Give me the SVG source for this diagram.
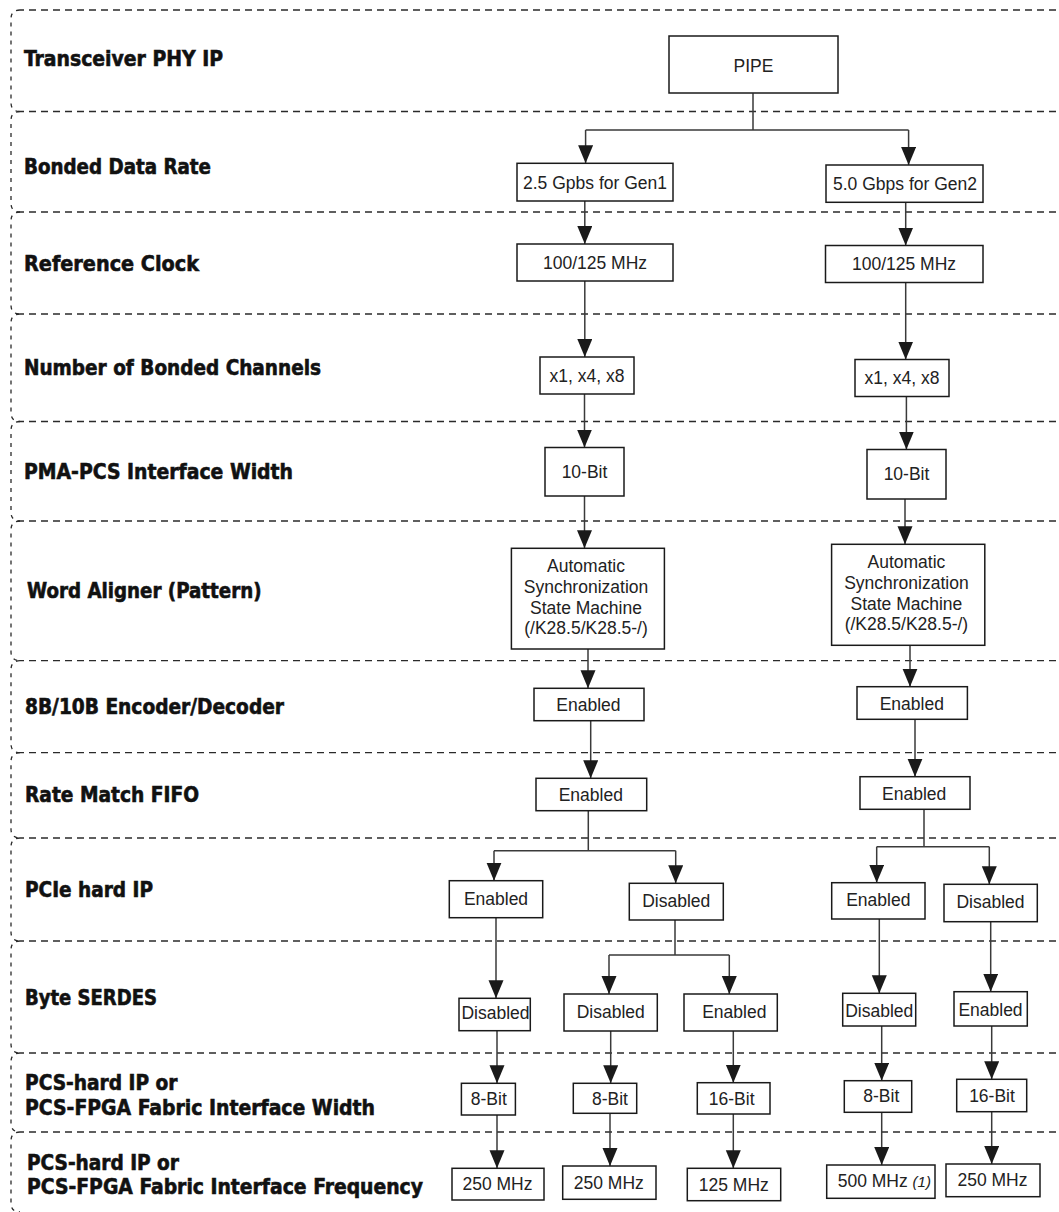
<svg xmlns="http://www.w3.org/2000/svg" width="1059" height="1212" viewBox="0 0 1059 1212">
  <style>
    .hline { fill: none; stroke: #2a2a2a; stroke-width: 1.3; stroke-dasharray: 7 5; }
    .vline { fill: none; stroke: #2a2a2a; stroke-width: 1.3; stroke-dasharray: 4 5; }
    .lbl { font-family: "DejaVu Sans Condensed", "DejaVu Sans", sans-serif; font-stretch: condensed; font-weight: bold; font-size: 22px; fill: #111; stroke: #111; stroke-width: 0.6; }
    .box rect { fill: #fff; stroke: #1a1a1a; stroke-width: 1.5; }
    .box text { font-family: "Liberation Sans", Arial, sans-serif; font-size: 17.5px; fill: #222; text-anchor: middle; }
    .wire { fill: none; stroke: #3a3a3a; stroke-width: 1.5; }
    .arr { fill: none; stroke: #3a3a3a; stroke-width: 1.5; marker-end: url(#head); }
  </style>
  <defs>
    <marker id="head" markerUnits="userSpaceOnUse" markerWidth="19" markerHeight="16" refX="18" refY="7.5" orient="auto">
      <path d="M0,0 L18,7.5 L0,15 Z" fill="#1a1a1a"/>
    </marker>
  </defs>

  <!-- dashed swim-lane rows: top edge plus rounded left side -->
  <g id="rows">
    <path class="hline" d="M1068 10 H20"/>
    <path class="vline" d="M20 10 Q11 10 11 19 V102.5 Q11 111.5 20 111.5"/>
    <path class="hline" d="M1068 111.5 H20"/>
    <path class="vline" d="M20 111.5 Q11 111.5 11 120.5 V203 Q11 212 20 212"/>
    <path class="hline" d="M1068 212 H20"/>
    <path class="vline" d="M20 212 Q11 212 11 221 V305 Q11 314 20 314"/>
    <path class="hline" d="M1068 314 H20"/>
    <path class="vline" d="M20 314 Q11 314 11 323 V412.5 Q11 421.5 20 421.5"/>
    <path class="hline" d="M1068 421.5 H20"/>
    <path class="vline" d="M20 421.5 Q11 421.5 11 430.5 V512 Q11 521 20 521"/>
    <path class="hline" d="M1068 521 H20"/>
    <path class="vline" d="M20 521 Q11 521 11 530 V651.7 Q11 660.7 20 660.7"/>
    <path class="hline" d="M1068 660.7 H20"/>
    <path class="vline" d="M20 660.7 Q11 660.7 11 669.7 V743.7 Q11 752.7 20 752.7"/>
    <path class="hline" d="M1068 752.7 H20"/>
    <path class="vline" d="M20 752.7 Q11 752.7 11 761.7 V829 Q11 838 20 838"/>
    <path class="hline" d="M1068 838 H20"/>
    <path class="vline" d="M20 838 Q11 838 11 847 V932 Q11 941 20 941"/>
    <path class="hline" d="M1068 941 H20"/>
    <path class="vline" d="M20 941 Q11 941 11 950 V1044 Q11 1053 20 1053"/>
    <path class="hline" d="M1068 1053 H20"/>
    <path class="vline" d="M20 1053 Q11 1053 11 1062 V1123 Q11 1132 20 1132"/>
    <path class="hline" d="M1068 1132 H20"/>
    <path class="vline" d="M20 1132 Q11 1132 11 1141 V1203 Q11 1212 20 1212"/>
  </g>

  <!-- row titles -->
  <g id="labels">
    <text class="lbl" x="24" y="65.5" textLength="199" lengthAdjust="spacingAndGlyphs">Transceiver PHY IP</text>
    <text class="lbl" x="24" y="174" textLength="187" lengthAdjust="spacingAndGlyphs">Bonded Data Rate</text>
    <text class="lbl" x="24" y="270.5" textLength="175" lengthAdjust="spacingAndGlyphs">Reference Clock</text>
    <text class="lbl" x="24" y="375" textLength="297" lengthAdjust="spacingAndGlyphs">Number of Bonded Channels</text>
    <text class="lbl" x="24" y="479" textLength="269" lengthAdjust="spacingAndGlyphs">PMA-PCS Interface Width</text>
    <text class="lbl" x="27" y="598" textLength="234.5" lengthAdjust="spacingAndGlyphs">Word Aligner (Pattern)</text>
    <text class="lbl" x="25" y="714" textLength="259" lengthAdjust="spacingAndGlyphs">8B/10B Encoder/Decoder</text>
    <text class="lbl" x="25" y="801.5" textLength="174" lengthAdjust="spacingAndGlyphs">Rate Match FIFO</text>
    <text class="lbl" x="25" y="896.5" textLength="128" lengthAdjust="spacingAndGlyphs">PCIe hard IP</text>
    <text class="lbl" x="25" y="1005" textLength="132" lengthAdjust="spacingAndGlyphs">Byte SERDES</text>
    <text class="lbl" x="25" y="1090" textLength="152.5" lengthAdjust="spacingAndGlyphs">PCS-hard IP or</text>
    <text class="lbl" x="25" y="1115" textLength="350" lengthAdjust="spacingAndGlyphs">PCS-FPGA Fabric Interface Width</text>
    <text class="lbl" x="27" y="1170" textLength="152" lengthAdjust="spacingAndGlyphs">PCS-hard IP or</text>
    <text class="lbl" x="27" y="1194" textLength="396" lengthAdjust="spacingAndGlyphs">PCS-FPGA Fabric Interface Frequency</text>
  </g>

  <!-- connectors -->
  <g id="connectors">
    <path class="wire" d="M753 93.3 V130 M585.6 130 H908.6"/>
    <path class="arr" d="M585.6 130 V163.3"/>
    <path class="arr" d="M908.6 130 V165"/>
    <path class="arr" d="M584.8 201 V244"/>
    <path class="arr" d="M905.7 202.3 V245.5"/>
    <path class="arr" d="M584.8 281 V357"/>
    <path class="arr" d="M905.7 282.5 V359.5"/>
    <path class="arr" d="M584.5 394 V447.5"/>
    <path class="arr" d="M906.4 396.5 V449.5"/>
    <path class="arr" d="M584.5 496 V548.3"/>
    <path class="arr" d="M905 499 V544.3"/>
    <path class="arr" d="M588 649 V688.3"/>
    <path class="arr" d="M910 645.3 V686.7"/>
    <path class="arr" d="M590.7 720.7 V778.3"/>
    <path class="arr" d="M915 719.3 V776.7"/>
    <path class="wire" d="M588.3 810.7 V850.7 M494 850.7 H675.7"/>
    <path class="arr" d="M494 850.7 V880.7"/>
    <path class="arr" d="M675.7 850.7 V883.3"/>
    <path class="wire" d="M924 809.3 V846.7 M876.7 846.7 H989.3"/>
    <path class="arr" d="M876.7 846.7 V882.7"/>
    <path class="arr" d="M989.3 846.7 V884.3"/>
    <path class="arr" d="M496 917.7 V998.3"/>
    <path class="wire" d="M675 920 V955 M609 955 H729.3"/>
    <path class="arr" d="M609 955 V994"/>
    <path class="arr" d="M729.3 955 V994"/>
    <path class="arr" d="M879.3 919 V993.3"/>
    <path class="arr" d="M990.7 921.7 V991.7"/>
    <path class="arr" d="M497 1030.7 V1083.3"/>
    <path class="arr" d="M610.7 1031 V1083.3"/>
    <path class="arr" d="M733.3 1031 V1082.7"/>
    <path class="arr" d="M881.7 1026 V1080.7"/>
    <path class="arr" d="M991.7 1026 V1079.3"/>
    <path class="arr" d="M497 1115 V1168.3"/>
    <path class="arr" d="M610 1113.3 V1166"/>
    <path class="arr" d="M733.3 1114 V1168.3"/>
    <path class="arr" d="M881.7 1112.3 V1165"/>
    <path class="arr" d="M991.7 1111.7 V1164"/>
  </g>

  <!-- nodes -->
  <g id="n-pipe" class="box"><rect x="669" y="36" width="169" height="57"/><text x="753.5" y="71.5">PIPE</text></g>

  <g id="n-gen1" class="box"><rect x="517" y="163.3" width="156" height="37.7"/><text x="595" y="188.5">2.5 Gpbs for Gen1</text></g>
  <g id="n-gen2" class="box"><rect x="826" y="165" width="157" height="37.3"/><text x="905" y="190">5.0 Gbps for Gen2</text></g>

  <g id="n-ref1" class="box"><rect x="517" y="244" width="156" height="37"/><text x="595" y="268.5">100/125 MHz</text></g>
  <g id="n-ref2" class="box"><rect x="825.5" y="245.5" width="157.5" height="37"/><text x="904" y="270">100/125 MHz</text></g>

  <g id="n-ch1" class="box"><rect x="540" y="357" width="94" height="37"/><text x="587" y="382">x1, x4, x8</text></g>
  <g id="n-ch2" class="box"><rect x="855" y="359.5" width="94" height="37"/><text x="902" y="384">x1, x4, x8</text></g>

  <g id="n-pma1" class="box"><rect x="545" y="447.5" width="79" height="48.5"/><text x="584.5" y="478">10-Bit</text></g>
  <g id="n-pma2" class="box"><rect x="867" y="449.5" width="79" height="49.5"/><text x="906.5" y="480">10-Bit</text></g>

  <g id="n-wa1" class="box"><rect x="511.4" y="548.3" width="153" height="100.7"/>
    <text x="586" y="572.3">Automatic</text>
    <text x="586" y="593">Synchronization</text>
    <text x="586" y="613.7">State Machine</text>
    <text x="586" y="634.3">(/K28.5/K28.5-/)</text>
  </g>
  <g id="n-wa2" class="box"><rect x="831.6" y="544.3" width="153.2" height="101"/>
    <text x="906.4" y="568.3">Automatic</text>
    <text x="906.4" y="589">Synchronization</text>
    <text x="906.4" y="609.7">State Machine</text>
    <text x="906.4" y="630.3">(/K28.5/K28.5-/)</text>
  </g>

  <g id="n-enc1" class="box"><rect x="534" y="688.3" width="110" height="32.4"/><text x="588.4" y="711">Enabled</text></g>
  <g id="n-enc2" class="box"><rect x="857" y="686.7" width="110.4" height="32.6"/><text x="911.8" y="710">Enabled</text></g>

  <g id="n-rm1" class="box"><rect x="536" y="778.3" width="110.7" height="32.4"/><text x="590.8" y="801">Enabled</text></g>
  <g id="n-rm2" class="box"><rect x="860" y="776.7" width="110" height="32.6"/><text x="914.2" y="800">Enabled</text></g>

  <g id="n-hip1" class="box"><rect x="449.3" y="880.7" width="93.4" height="37"/><text x="496" y="905">Enabled</text></g>
  <g id="n-hip2" class="box"><rect x="629.3" y="883.3" width="94" height="36.7"/><text x="676.3" y="906.7">Disabled</text></g>
  <g id="n-hip3" class="box"><rect x="831.7" y="882.7" width="93.3" height="36.3"/><text x="878.3" y="905.7">Enabled</text></g>
  <g id="n-hip4" class="box"><rect x="944" y="884.3" width="93.3" height="37.4"/><text x="990.5" y="908.3">Disabled</text></g>

  <g id="n-sd1" class="box"><rect x="459" y="998.3" width="71.3" height="32.4"/><text x="495.5" y="1019.3">Disabled</text></g>
  <g id="n-sd2" class="box"><rect x="564" y="994" width="93.3" height="37"/><text x="610.7" y="1018.3">Disabled</text></g>
  <g id="n-sd3" class="box"><rect x="684" y="994" width="93.3" height="37"/><text x="734.3" y="1018.3">Enabled</text></g>
  <g id="n-sd4" class="box"><rect x="842.7" y="993.3" width="73" height="32.7"/><text x="879.2" y="1016.7">Disabled</text></g>
  <g id="n-sd5" class="box"><rect x="954" y="991.7" width="73.3" height="34.3"/><text x="990.5" y="1016">Enabled</text></g>

  <g id="n-fw1" class="box"><rect x="461.4" y="1083.3" width="54" height="31.7"/><text x="488.8" y="1105">8-Bit</text></g>
  <g id="n-fw2" class="box"><rect x="573.3" y="1083.3" width="63.4" height="30"/><text x="610" y="1105">8-Bit</text></g>
  <g id="n-fw3" class="box"><rect x="697.3" y="1082.7" width="72.7" height="31.3"/><text x="731.7" y="1105">16-Bit</text></g>
  <g id="n-fw4" class="box"><rect x="844.3" y="1080.7" width="67.4" height="31.6"/><text x="881.3" y="1102.3">8-Bit</text></g>
  <g id="n-fw5" class="box"><rect x="956.7" y="1079.3" width="70" height="32.4"/><text x="992" y="1102.3">16-Bit</text></g>

  <g id="n-ff1" class="box"><rect x="452" y="1168.3" width="92" height="31.7"/><text x="497.5" y="1190">250 MHz</text></g>
  <g id="n-ff2" class="box"><rect x="562.7" y="1166" width="93.3" height="33.3"/><text x="608.8" y="1189.3">250 MHz</text></g>
  <g id="n-ff3" class="box"><rect x="687.3" y="1168.3" width="93.4" height="32.4"/><text x="733.8" y="1190.7">125 MHz</text></g>
  <g id="n-ff4" class="box"><rect x="826.7" y="1165" width="108.3" height="33.3"/><text x="837.7" y="1187.3" style="text-anchor:start">500 MHz <tspan font-style="italic" font-size="15">(1)</tspan></text></g>
  <g id="n-ff5" class="box"><rect x="946" y="1164" width="94" height="32.7"/><text x="992.5" y="1186">250 MHz</text></g>
</svg>
